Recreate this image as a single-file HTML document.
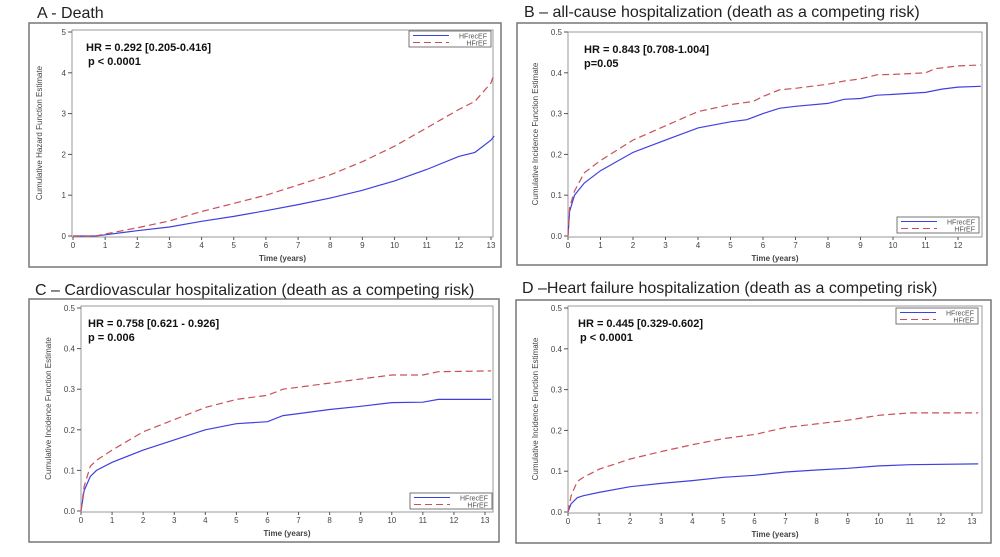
<!DOCTYPE html>
<html><head><meta charset="utf-8"><style>
body{margin:0;background:#fff;width:1000px;height:557px;overflow:hidden;font-family:"Liberation Sans",sans-serif}
svg{display:block}
</style></head><body>
<svg id="s" width="1000" height="557"></svg>
<script>
const xTicksA=[0,1,2,3,4,5,6,7,8,9,10,11,12,13];
const xTicksB=[0,1,2,3,4,5,6,7,8,9,10,11,12];
const yTicksA=[0,1,2,3,4,5];
const yTicksP=[0,0.1,0.2,0.3,0.4,0.5];
const aRecX=[0,0.7,1,2,3,4,5,6,7,8,9,10,11,12,12.5,13,13.1];
const aRecY=[0,0,0.03,0.13,0.22,0.36,0.48,0.62,0.77,0.93,1.12,1.35,1.63,1.95,2.05,2.35,2.45];
const aRedX=[0,0.7,1,2,3,4,5,6,7,8,9,10,11,12,12.5,13,13.1];
const aRedY=[0,0,0.05,0.2,0.37,0.6,0.8,1.0,1.25,1.5,1.82,2.2,2.65,3.1,3.3,3.75,3.98];
const bRecX=[0,0.05,0.2,0.5,1,2,3,4,5,5.5,6,6.5,7,8,8.5,9,9.5,10,11,11.5,12,12.7];
const bRecY=[0,0.06,0.1,0.13,0.16,0.205,0.235,0.265,0.28,0.285,0.3,0.313,0.318,0.325,0.335,0.337,0.345,0.347,0.352,0.36,0.365,0.367];
const bRedX=[0,0.05,0.2,0.5,1,2,3,4,5,5.7,6,6.5,7,8,8.5,9,9.5,10,11,11.3,12,12.7];
const bRedY=[0,0.07,0.11,0.155,0.185,0.235,0.27,0.305,0.322,0.33,0.342,0.358,0.362,0.372,0.38,0.385,0.395,0.396,0.4,0.41,0.417,0.419];
const cRecX=[0,0.1,0.3,0.5,1,2,3,4,5,6,6.5,7,8,9,10,11,11.5,13.2];
const cRecY=[0,0.05,0.085,0.1,0.12,0.15,0.175,0.2,0.215,0.22,0.235,0.24,0.25,0.258,0.267,0.268,0.275,0.275];
const cRedX=[0,0.1,0.3,0.5,1,2,3,4,5,6,6.5,7,8,9,10,11,11.5,13.2];
const cRedY=[0,0.06,0.11,0.125,0.15,0.195,0.225,0.255,0.275,0.285,0.3,0.305,0.315,0.325,0.335,0.335,0.343,0.345];
const dRecX=[0,0.1,0.3,0.5,1,2,3,4,5,6,7,8,9,10,11,13.2];
const dRecY=[0,0.02,0.035,0.04,0.048,0.062,0.07,0.077,0.085,0.09,0.098,0.103,0.107,0.113,0.116,0.118];
const dRedX=[0,0.1,0.3,0.5,1,2,3,4,5,6,7,8,9,10,11,13.2];
const dRedY=[0,0.04,0.075,0.085,0.105,0.13,0.148,0.165,0.18,0.19,0.207,0.216,0.225,0.237,0.243,0.243];

const S=document.getElementById('s');const NS='http://www.w3.org/2000/svg';
function mk(t,a,p,txt){const e=document.createElementNS(NS,t);for(const k in a)e.setAttribute(k,a[k]);if(txt!==undefined)e.textContent=txt;(p||S).appendChild(e);return e;}
function panel(o){
 const g=mk('g',{});
 
 
 const t=mk('text',{x:o.tx,y:o.ty,'font-size':16,fill:'#222'},g,o.title);
 
 
 mk('rect',{x:o.bx,y:o.by,width:o.bw,height:o.bh,fill:'none',stroke:'#777','stroke-width':1.5},g);
 const X=v=>o.x0+(v/o.xs)*(o.x1-o.x0);
 const Y=v=>o.y0-(v/o.ymax)*(o.y0-o.ytop);
 mk('rect',{x:o.pl,y:o.pt,width:o.pr-o.pl,height:o.y0+1-o.pt,fill:'none',stroke:'#999','stroke-width':1},g);
 o.xt.forEach(v=>{mk('line',{x1:X(v),x2:X(v),y1:o.y0+1,y2:o.y0+4,stroke:'#555'},g);
  const l=mk('text',{x:X(v),y:o.y0+12,'font-size':8,'text-anchor':'middle',fill:'#444'},g,v);
  
  });
 o.yt.forEach(v=>{mk('line',{x1:o.pl-4,x2:o.pl,y1:Y(v),y2:Y(v),stroke:'#555'},g);
  const l=mk('text',{x:o.pl-6,y:Y(v)+3,'font-size':8,'text-anchor':'end',fill:'#444'},g,o.ymax>1?v:v.toFixed(1));
  
  });
 const xl=mk('text',{x:(o.pl+o.pr)/2,y:o.y0+25,'font-size':8,'font-weight':'bold','text-anchor':'middle',fill:'#444'},g,'Time (years)');
 
 
 const yx=o.pl-30,yy=(o.pt+o.y0)/2;
 const yl=mk('text',{x:yx,y:yy,'font-size':8,'text-anchor':'middle',fill:'#444',transform:`rotate(-90 ${yx} ${yy})`},g,o.ylab);
 
 
 const h1=mk('text',{x:o.hx,y:o.pt+21,'font-size':11,'font-weight':'bold',fill:'#111'},g,o.hr);
 
 
 const h2=mk('text',{x:o.hx+o.pdx,y:o.pt+35,'font-size':11,'font-weight':'bold',fill:'#111'},g,o.p);
 
 
 [[o.rx,o.ry,'#4040e0','none','series-hfrecef'],[o.dx,o.dy,'#c8505a','7 4','series-hfref']].forEach(s=>{
  const pts=s[0].map((v,i)=>X(v).toFixed(1)+','+Y(s[1][i]).toFixed(1)).join(' ');
  const pl=mk('polyline',{points:pts,fill:'none',stroke:s[2],'stroke-width':1.2,'stroke-dasharray':s[3]},g);
  
  
 });
 const lg=mk('g',{},g);
 
 
 mk('rect',{x:o.lx,y:o.ly,width:82,height:16,fill:'#fff',stroke:'#555','stroke-width':0.8},lg);
 mk('line',{x1:o.lx+4,x2:o.lx+40,y1:o.ly+4.5,y2:o.ly+4.5,stroke:'#4040e0'},lg);
 mk('line',{x1:o.lx+4,x2:o.lx+40,y1:o.ly+11.5,y2:o.ly+11.5,stroke:'#c8505a','stroke-dasharray':'7 4'},lg);
 mk('text',{x:o.lx+78,y:o.ly+7.5,'font-size':7,'text-anchor':'end',fill:'#555'},lg,'HFrecEF');
 mk('text',{x:o.lx+78,y:o.ly+14.5,'font-size':7,'text-anchor':'end',fill:'#555'},lg,'HFrEF');
}
const CIF='Cumulative Incidence Function Estimate';
panel({id:'panel-a-death',title:'A - Death',tx:37,ty:18,bx:29,by:23,bw:472,bh:244,pl:72,pr:493,pt:30,x0:73,x1:491,xs:13,y0:236,ytop:32,ymax:5,
 xt:xTicksA,yt:yTicksA,ylab:'Cumulative Hazard Function Estimate',hx:86,pdx:2,hr:'HR = 0.292  [0.205-0.416]',p:'p < 0.0001',
 rx:aRecX,ry:aRecY,dx:aRedX,dy:aRedY,lx:409,ly:31});
panel({id:'panel-b-all-cause',title:'B – all-cause hospitalization (death as a competing risk)',tx:524,ty:17,bx:517,by:23,bw:470,bh:242,pl:568,pr:982,pt:32,x0:568,x1:958,xs:12,y0:236,ytop:32,ymax:0.5,
 xt:xTicksB,yt:yTicksP,ylab:CIF,hx:584,pdx:0,hr:'HR = 0.843  [0.708-1.004]',p:'p=0.05',
 rx:bRecX,ry:bRecY,dx:bRedX,dy:bRedY,lx:897,ly:217});
panel({id:'panel-c-cardiovascular',title:'C – Cardiovascular  hospitalization (death as a competing risk)',tx:35,ty:295,bx:29,by:299,bw:470,bh:243,pl:81,pr:493,pt:306,x0:81,x1:485,xs:13,y0:511,ytop:308,ymax:0.5,
 xt:xTicksA,yt:yTicksP,ylab:CIF,hx:88,pdx:0,hr:'HR = 0.758  [0.621 - 0.926]',p:'p = 0.006',
 rx:cRecX,ry:cRecY,dx:cRedX,dy:cRedY,lx:410,ly:493});
panel({id:'panel-d-heart-failure',title:'D –Heart failure hospitalization (death as a competing risk)',tx:522,ty:293,bx:516,by:300,bw:475,bh:243,pl:568,pr:982,pt:306,x0:568,x1:972,xs:13,y0:512,ytop:308,ymax:0.5,
 xt:xTicksA,yt:yTicksP,ylab:CIF,hx:578,pdx:2,hr:'HR = 0.445  [0.329-0.602]',p:'p < 0.0001',
 rx:dRecX,ry:dRecY,dx:dRedX,dy:dRedY,lx:896,ly:308});
</script>
</body></html>
